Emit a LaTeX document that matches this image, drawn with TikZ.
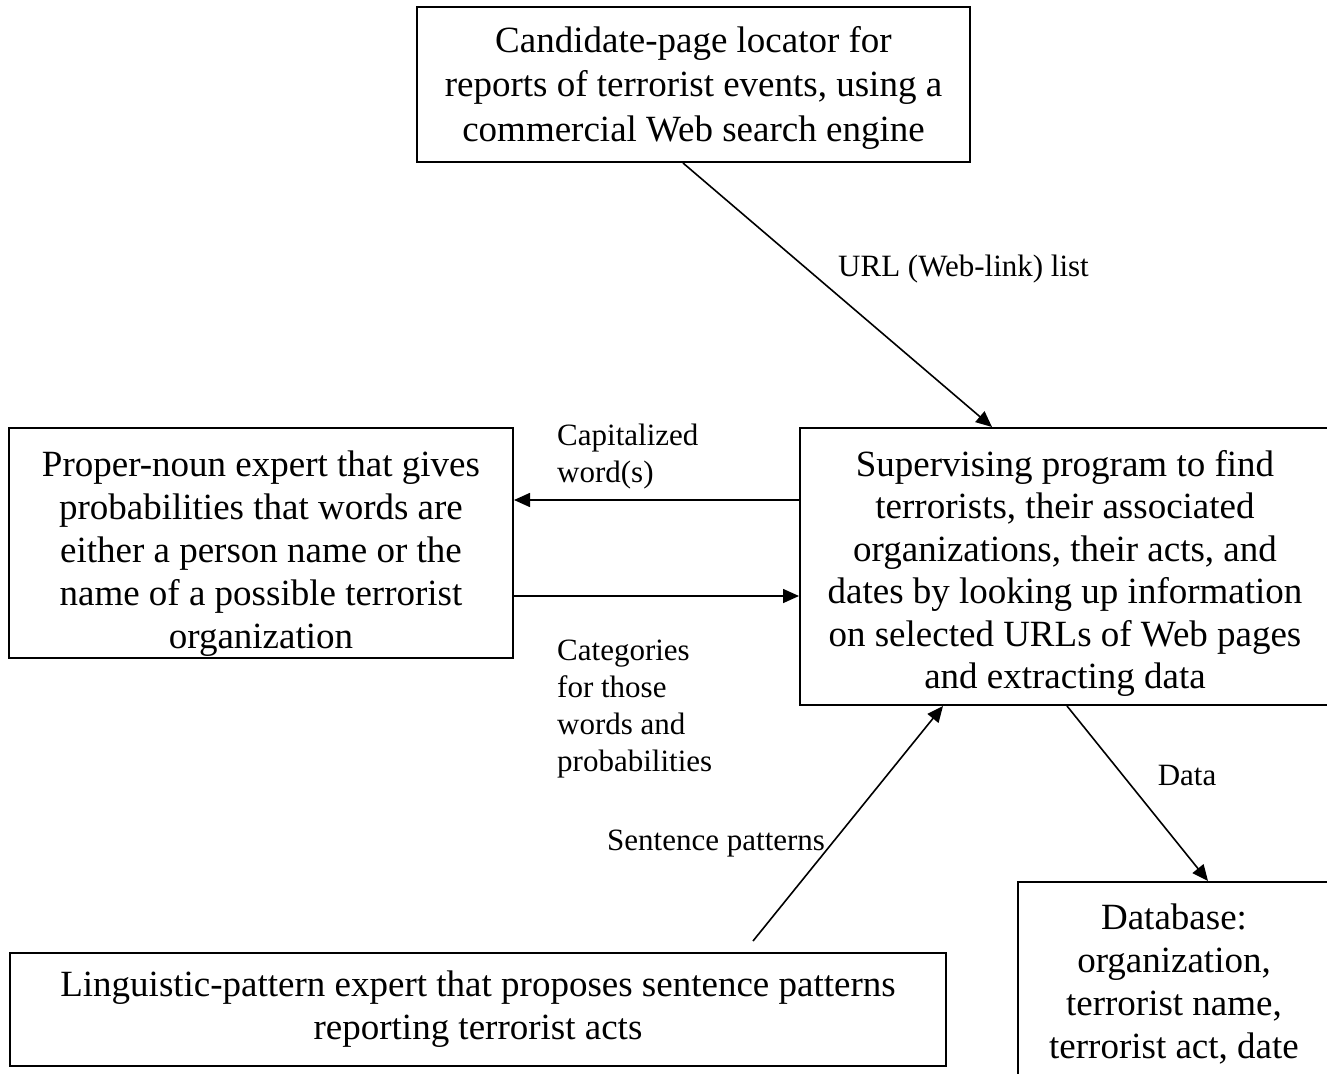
\documentclass[tikz,border=0pt]{standalone}
\usepackage{fontspec}
\setmainfont{Liberation Serif}
\usetikzlibrary{arrows.meta}
\tikzset{
  boxnode/.style={draw, line width=2pt, inner sep=0pt, align=center,
    font=\fontsize{37}{43}\selectfont},
  lbl/.style={inner sep=0pt, align=left, font=\fontsize{31}{37}\selectfont},
  arr/.style={line width=1.6pt, -{Triangle[length=16pt,width=14pt]}}
}
\begin{document}
\begin{tikzpicture}[x=1pt,y=-1pt]
\useasboundingbox (0,0) rectangle (1327,1073);
\clip (0,0) rectangle (1327,1073);
\node[boxnode, minimum width=553pt, minimum height=155pt, font=\fontsize{37}{44.5}\selectfont] (top) at (693.5,84.5)
  {\rule{0pt}{32pt}Candidate-page locator for\\reports of terrorist events, using a\\commercial Web search engine};
\node[boxnode, minimum width=504pt, minimum height=230pt] (left) at (261,543)
  {\rule{0pt}{46pt}Proper-noun expert that gives\\probabilities that words are\\either a person name or the\\name of a possible terrorist\\organization};
\node[boxnode, minimum width=530pt, minimum height=277pt, font=\fontsize{37}{42.5}\selectfont] (sup) at (1065,566.5)
  {\rule{0pt}{40pt}Supervising program to find\\terrorists, their associated\\organizations, their acts, and\\dates by looking up information\\on selected URLs of Web pages\\and extracting data};
\node[boxnode, minimum width=936pt, minimum height=113pt] (bot) at (478,1009.5)
  {Linguistic-pattern expert that proposes sentence patterns\\reporting terrorist acts};
\node[boxnode, minimum width=312pt, minimum height=204pt] (db) at (1174,984)
  {Database:\\organization,\\terrorist name,\\terrorist act, date};
% connectors
\draw[arr] ([xshift=-10.5pt]top.south) -- ([xshift=-73pt]sup.north);
\coordinate (a1) at ([yshift=66.5pt]sup.west);
\draw[arr] (a1) -- (a1 -| left.east);
\coordinate (b1) at ([yshift=-53pt]left.east);
\draw[arr] (b1) -- (b1 -| sup.west);
\coordinate (c1) at ([xshift=275pt,yshift=11pt]bot.north);
\draw[arr] (c1) -- ([xshift=-122pt]sup.south);
\draw[arr] ([xshift=2pt]sup.south) -- ([xshift=34pt]db.north);
% labels
\node[lbl, anchor=west] (l1) at (838,269) {URL (Web-link) list};
\node[lbl, anchor=west] (l2) at (557,457) {Capitalized\\word(s)};
\node[lbl, anchor=west] (l3) at (557,709) {Categories\\for those\\words and\\probabilities};
\node[lbl, anchor=west] (l4) at (607,844) {Sentence patterns};
\node[lbl] (l5) at (1187,775) {Data};
\end{tikzpicture}
\end{document}
